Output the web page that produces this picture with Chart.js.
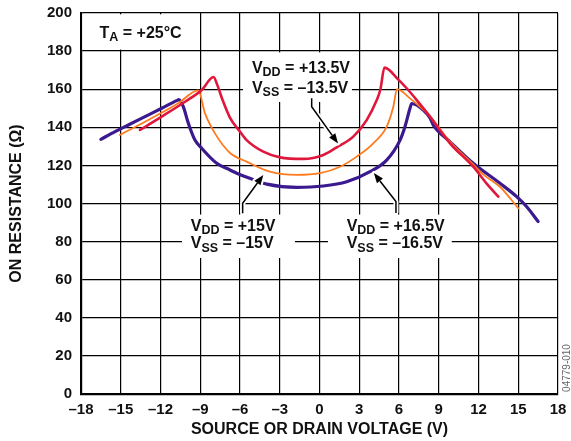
<!DOCTYPE html>
<html><head><meta charset="utf-8">
<script src="https://cdn.jsdelivr.net/npm/chart.js@4/dist/chart.umd.min.js"></script>
<style>html,body{margin:0;padding:0;background:#fff;}#c{display:block;}</style>
</head><body>
<canvas id="c" width="571" height="441"></canvas>
<script>
// ---- data ----
const xTicks = [-18,-15,-12,-9,-6,-3,0,3,6,9,12,15,18];
const yTicks = [0,20,40,60,80,100,120,140,160,180,200];

const v135X = [-13.55,-11.91,-10.15,-8.89,-8.0,-7.7,-7.35,-6.75,-6.0,-5.5,-4.24,-2.98,-1.22,0.29,1.3,2.55,3.56,4.32,4.6,4.9,5.97,6.58,7.34,8.34,9.85,11.6,12.6,13.5];
const v135Y = [138.6,145.6,153.4,159.6,166.4,162.0,155.0,145.0,137.7,133.3,127.2,124.2,123.4,125.5,129.5,135.1,143.8,154.3,160.0,171.3,164.9,160.5,154.3,145.6,131.6,119.3,110.6,103.6];

const v15X = [-15.06,-13.17,-10.66,-9.15,-8.64,-7.89,-6.75,-5.5,-3.74,-1.72,0.04,1.55,2.81,4.06,5.07,5.57,5.85,6.83,8.3,9.85,11.6,12.4,13.62,15.0];
const v15Y = [136.0,142.9,152.6,159.4,147.3,136.8,126.5,122.0,116.7,115.0,115.9,119.3,124.6,131.6,140.3,150.8,160.0,155.2,146.0,132.5,120.5,115.0,108.8,97.5];

const v165X = [-16.5,-15.43,-14.43,-13.17,-11.91,-10.78,-10.62,-10.28,-9.9,-9.4,-8.89,-7.76,-6.75,-6.25,-5.25,-3.98,-1.72,0.29,2.05,3.81,5.07,6.08,6.45,6.83,6.96,7.83,8.34,8.59,9.85,11.6,13.62,14.88,15.64,16.5];
const v165Y = [133.7,137.7,141.2,145.6,150.0,154.0,154.5,150.8,142.1,133.3,129.0,121.1,117.6,115.9,113.2,110.2,108.5,109.2,111.4,116.7,122.8,133.3,140.3,150.0,152.5,149.1,144.9,141.2,132.4,121.1,110.6,103.6,98.3,90.5];

const seriesNames = ['VDD = +13.5V','VDD = +15V','VDD = +16.5V'];

const pts = (xs, ys) => xs.map((x, i) => ({x, y: ys[i]}));

const FONT = '"Liberation Sans", Arial, Helvetica, sans-serif';

// white label boxes (value space) and label text
const boxes = [
  {x0:-17.9, x1:-9.3, y0:180.8, y1:199.3},
  {x0:-5.77, x1:2.45, y0:153.3, y1:179.3},
  {x0:-10.38, x1:-1.85, y0:71.4, y1:94.2},
  {x0:0.64, x1:9.98, y0:71.4, y1:94.2}
];
const labels = [
  {x:-16.6, y:187.0, parts:[['T',0],['A',1],[' = +25°C',0]]},
  {x:-5.1, y:168.7, parts:[['V',0],['DD',1],[' = +13.5V',0]]},
  {x:-5.1, y:158.2, parts:[['V',0],['SS',1],[' = –13.5V',0]]},
  {x:-9.72, y:85.7, parts:[['V',0],['DD',1],[' = +15V',0]]},
  {x:-9.72, y:76.5, parts:[['V',0],['SS',1],[' = –15V',0]]},
  {x:2.05, y:85.7, parts:[['V',0],['DD',1],[' = +16.5V',0]]},
  {x:2.05, y:76.5, parts:[['V',0],['SS',1],[' = –16.5V',0]]}
];
const arrows = [
  [[-0.59,155.2],[-0.59,150.8],[1.4,131.5]],
  [[-5.8,94.9],[-5.8,100.1],[-4.24,115.0]],
  [[5.77,95.0],[5.77,101.0],[4.1,116.0]]
];

const annot = {
  id: 'annot',
  beforeDatasetsDraw(chart) {
    const ctx = chart.ctx, xs = chart.scales.x, ys = chart.scales.y;
    const X = v => xs.getPixelForValue(v), Y = v => ys.getPixelForValue(v);
    ctx.save();
    ctx.fillStyle = '#fff';
    boxes.forEach(b => {
      const x1 = X(b.x0), x2 = X(b.x1), y1 = Y(b.y1), y2 = Y(b.y0);
      ctx.fillRect(x1, y1, x2 - x1, y2 - y1);
    });
    ctx.fillStyle = '#111';
    ctx.textBaseline = 'alphabetic';
    ctx.textAlign = 'left';
    labels.forEach(l => {
      let px = X(l.x); const py = Y(l.y);
      l.parts.forEach(([t, sub]) => {
        ctx.font = sub ? 'bold 12.5px ' + FONT : 'bold 16px ' + FONT;
        ctx.fillText(t, px, py + (sub ? 3.5 : 0));
        px += ctx.measureText(t).width;
      });
    });
    ctx.restore();
  },
  afterDatasetsDraw(chart) {
    const ctx = chart.ctx, xs = chart.scales.x, ys = chart.scales.y;
    const X = v => xs.getPixelForValue(v), Y = v => ys.getPixelForValue(v);
    ctx.save();
    arrows.forEach(a => {
      const p = a.map(q => [X(q[0]), Y(q[1])]);
      const [tx, ty] = p[2], [sx, sy] = p[1];
      const ang = Math.atan2(ty - sy, tx - sx);
      const L = 10, W = 3.8;
      const bx = tx - L * Math.cos(ang), by = ty - L * Math.sin(ang);
      // white halo
      ctx.strokeStyle = '#fff'; ctx.lineWidth = 5; ctx.lineJoin = 'round';
      ctx.beginPath(); ctx.moveTo(p[0][0], p[0][1]); ctx.lineTo(p[1][0], p[1][1]); ctx.lineTo(bx, by); ctx.stroke();
      ctx.beginPath();
      ctx.moveTo(tx, ty);
      ctx.lineTo(bx + W * Math.sin(ang), by - W * Math.cos(ang));
      ctx.lineTo(bx - W * Math.sin(ang), by + W * Math.cos(ang));
      ctx.closePath(); ctx.lineWidth = 4; ctx.stroke();
      // black arrow
      ctx.strokeStyle = '#000'; ctx.lineWidth = 1.5; ctx.lineJoin = 'miter';
      ctx.beginPath(); ctx.moveTo(p[0][0], p[0][1]); ctx.lineTo(p[1][0], p[1][1]); ctx.lineTo(bx, by); ctx.stroke();
      ctx.fillStyle = '#000';
      ctx.beginPath();
      ctx.moveTo(tx, ty);
      ctx.lineTo(bx + W * Math.sin(ang), by - W * Math.cos(ang));
      ctx.lineTo(bx - W * Math.sin(ang), by + W * Math.cos(ang));
      ctx.closePath(); ctx.fill();
    });
    ctx.restore();
  },
  afterDraw(chart) {
    const ctx = chart.ctx;
    ctx.save();
    ctx.translate(567, 368);
    ctx.rotate(-Math.PI / 2);
    ctx.font = '10px ' + FONT;
    ctx.fillStyle = '#666';
    ctx.textAlign = 'center';
    ctx.textBaseline = 'middle';
    ctx.fillText('04779-010', 0, 0);
    ctx.restore();
  }
};

const fmt = v => (v < 0 ? '–' + Math.abs(v) : String(v));
const zeroPad = s => { s.paddingTop = 0; s.paddingBottom = 0; s.paddingLeft = 0; s.paddingRight = 0; };

new Chart(document.getElementById('c'), {
  type: 'scatter',
  data: {
    datasets: [
      {label: seriesNames[0], data: pts(v135X, v135Y), borderColor: '#e0173c', borderWidth: 2.6},
      {label: seriesNames[1], data: pts(v15X, v15Y), borderColor: '#ff7a1c', borderWidth: 1.8},
      {label: seriesNames[2], data: pts(v165X, v165Y), borderColor: '#3a1a8e', borderWidth: 3.2}
    ].map(d => Object.assign(d, {showLine: true, pointRadius: 0, fill: false, cubicInterpolationMode: 'monotone', borderJoinStyle: 'round', borderCapStyle: 'round'}))
  },
  options: {
    responsive: false,
    animation: false,
    devicePixelRatio: 1,
    layout: {padding: {top: 13, right: 13, left: 0, bottom: 0}},
    plugins: {legend: {display: false}, tooltip: {enabled: false}},
    scales: {
      x: {
        type: 'linear', min: -18, max: 18,
        afterBuildTicks: s => { s.ticks = xTicks.map(v => ({value: v})); },
        afterFit: s => { s.height = 47; zeroPad(s); },
        grid: {color: '#000', lineWidth: 1.2, drawTicks: false},
        border: {color: '#000', width: 2.2},
        ticks: {color: '#111', padding: 7, font: {family: FONT, size: 15, weight: 'bold'}, callback: fmt, maxRotation: 0},
        title: {display: true, text: 'SOURCE OR DRAIN VOLTAGE (V)', color: '#111', font: {family: FONT, size: 16, weight: 'bold'}, padding: {top: 0, bottom: 2}}
      },
      y: {
        type: 'linear', min: 0, max: 200,
        afterBuildTicks: s => { s.ticks = yTicks.map(v => ({value: v})); },
        afterFit: s => { s.width = 81; zeroPad(s); },
        grid: {color: '#000', lineWidth: 1.2, drawTicks: false},
        border: {color: '#000', width: 2.2},
        ticks: {color: '#111', padding: 9, font: {family: FONT, size: 15, weight: 'bold'}, callback: fmt},
        title: {display: true, text: 'ON RESISTANCE (Ω)', color: '#111', font: {family: FONT, size: 16, weight: 'bold'}, padding: {top: 7, bottom: 0}}
      }
    }
  },
  plugins: [annot]
});
</script>
</body></html>
